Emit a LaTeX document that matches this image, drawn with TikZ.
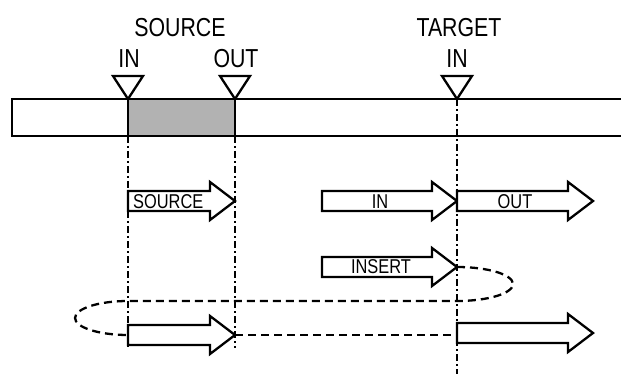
\documentclass[tikz,border=0pt]{standalone}
\usepackage{fontspec}
\setmainfont[FakeStretch=0.82]{Liberation Sans}
\usepackage{tikz}
\newdimen\unitsize
\setlength{\unitsize}{1pt}

\begin{document}
\begin{tikzpicture}[x=\unitsize,y=-\unitsize,baseline=0]
\tikzset{bar/.style={line width=2.5pt}}%
\tikzset{marker/.style={line width=2.3pt, fill=white, line join=miter}}%
\tikzset{fatarrow/.style={line width=2.3pt, fill=white, line join=miter}}%
\tikzset{cutline/.style={line width=2.3pt, dash pattern=on 7pt off 3pt on 2pt off 3pt}}%
\tikzset{loopline/.style={line width=2.3pt, dash pattern=on 8pt off 5pt}}%
\tikzset{biglabel/.style={anchor=base, inner sep=0pt, font=\fontsize{26}{28}\selectfont}}%
\tikzset{smalllabel/.style={anchor=base, inner sep=0pt, font=\fontsize{20}{22}\selectfont}}%
\useasboundingbox (0,0) rectangle (621,374);
% marks on the bar
\coordinate (srcin) at (128,99);
\coordinate (srcout) at (235,99);
\coordinate (tgtin) at (457,99);
\coordinate (srcinend) at (128,347);
\coordinate (srcoutend) at (235,348);
\coordinate (tgtinend) at (457,374);
% the bar
\fill[black!30] (128,99) rectangle (235,136);
\draw[bar] (621,99) -- (12,99) -- (12,136) -- (621,136);
\draw[bar] (srcin) -- (128,136);
\draw[bar] (srcout) -- (235,136);
% cut lines
\draw[cutline] (128,136) -- (srcinend);
\draw[cutline] (235,136) -- (srcoutend);
\draw[cutline] (tgtin) -- (tgtinend);
% triangles
\foreach \xx in {128,235,457}
  \draw[marker] (\xx,99) -- (\xx-15,76) -- (\xx+15,76) -- cycle;
% labels
\node[biglabel] (srclabel) at (180,37) {SOURCE};
\node[biglabel] (srcinlabel) at (129,68) {IN};
\node[biglabel] (srcoutlabel) at (236,68) {OUT};
\node[biglabel] (tgtlabel) at (459,37) {TARGET};
\node[biglabel] (tgtinlabel) at (457,68) {IN};
% dashed loop
\draw[loopline] (457,267) arc[start angle=-90, end angle=90, x radius=56, y radius=17]
  -- (128,301) arc[start angle=270, end angle=90, x radius=53, y radius=17];
\draw[loopline] (235,335) -- (457,335);
% fat arrows
\foreach \xa/\xb/\yy in {128/235/201, 322/457/201, 457/593/201, 322/457/267, 128/235/335, 457/593/333}
  \draw[fatarrow] (\xa,\yy-10) -- (\xb-25,\yy-10) -- (\xb-25,\yy-19) -- (\xb,\yy)
    -- (\xb-25,\yy+19) -- (\xb-25,\yy+10) -- (\xa,\yy+10) -- cycle;
\node[smalllabel, anchor=base west] (srcarrow) at (133,208) {SOURCE};
\node[smalllabel] (inarrow) at (380,208) {IN};
\node[smalllabel] (outarrow) at (515,208) {OUT};
\node[smalllabel] (insertarrow) at (381,273) {INSERT};
\end{tikzpicture}
\end{document}
